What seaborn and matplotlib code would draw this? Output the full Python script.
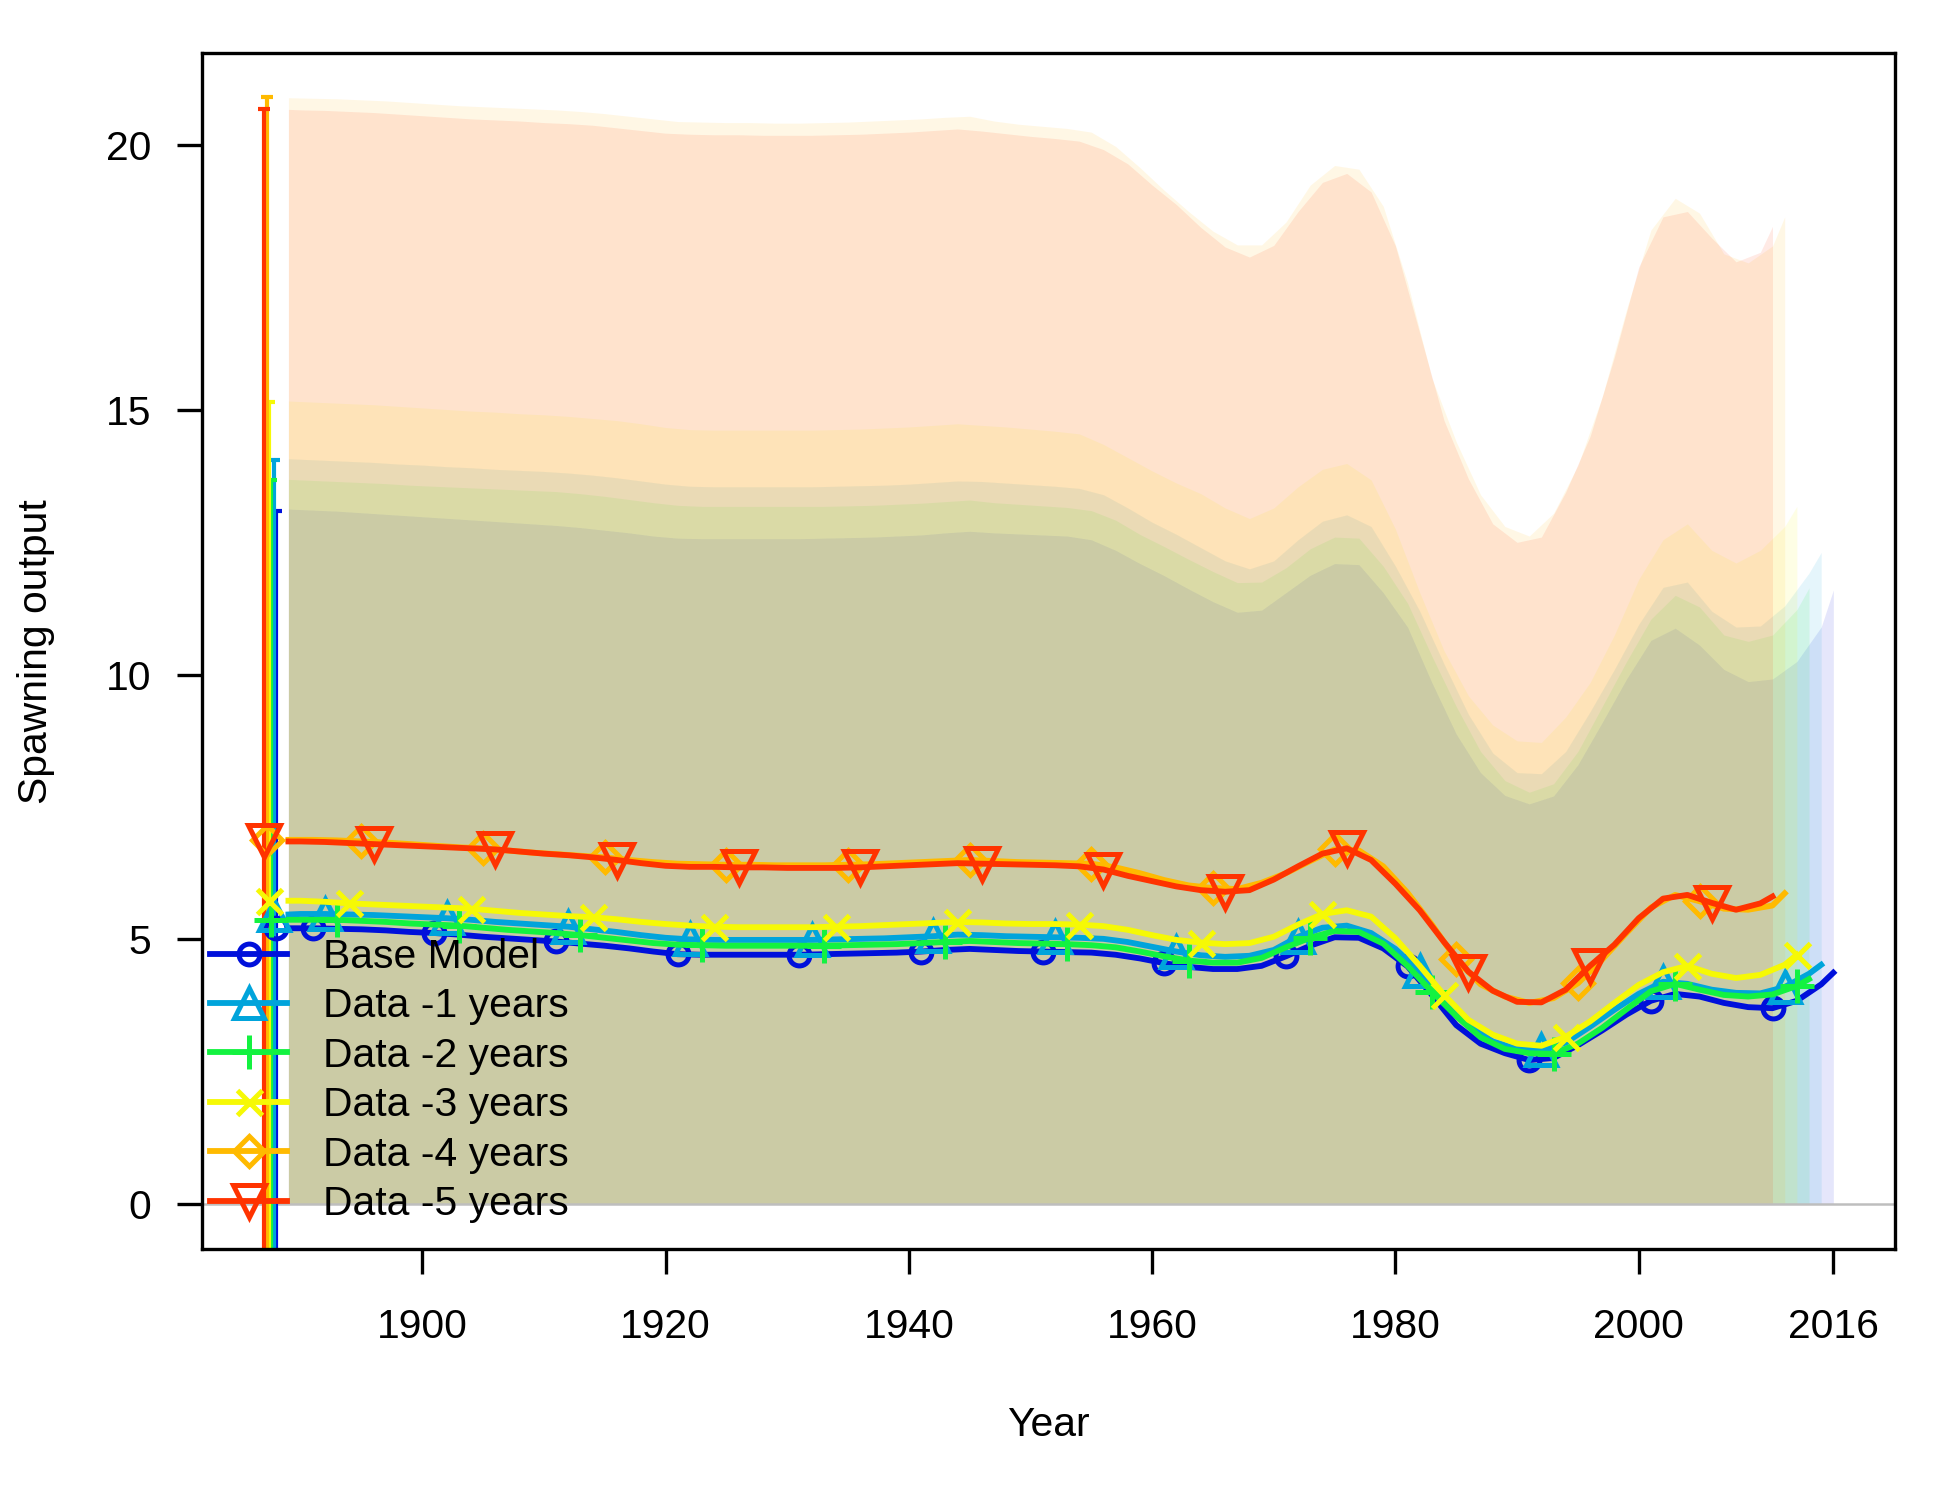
import matplotlib
matplotlib.use("Agg")
import matplotlib.pyplot as plt
from matplotlib.lines import Line2D
import pandas as pd
import seaborn as sns

plt.rcParams['font.family'] = ['Liberation Sans', 'DejaVu Sans']

# model names, colours and symbols
models = ["Base Model", "Data -1 years", "Data -2 years",
          "Data -3 years", "Data -4 years", "Data -5 years"]
colors = ["#0010DB", "#00A4DB", "#13F240", "#F6F905", "#FFBA00", "#FF3300"]
markers = ["o", "^", "+", "x", "D", "v"]
msizes = [5.0, 7.0, 8.0, 6.0, 5.0, 7.5]
first_mark = [1, 2, 2, 3, 3, 4]  # index of first symbol on each line

# years of each model run
years_base = list(range(1889, 2016, 2)) + [2016]
years_m1 = [1889] + list(range(1890, 2015, 2)) + [2015]
years_m2 = list(range(1889, 2014, 2)) + [2014]
years_m3 = [1889] + list(range(1890, 2013, 2)) + [2013]
years_m4 = list(range(1889, 2012, 2)) + [2012]
years_m5 = [1889] + list(range(1890, 2011, 2)) + [2011]

# spawning output estimates
ssb_base = [5.21, 5.21, 5.20, 5.19, 5.17, 5.14, 5.12, 5.09, 5.05, 5.02,
            4.99, 4.96, 4.92, 4.88, 4.83, 4.77, 4.72, 4.71, 4.71, 4.71,
            4.71, 4.71, 4.72, 4.73, 4.74, 4.75, 4.77, 4.80, 4.82, 4.80,
            4.78, 4.77, 4.76, 4.75, 4.71, 4.64, 4.55, 4.48, 4.44, 4.44,
            4.50, 4.68, 4.88, 5.04, 5.03, 4.83, 4.49, 3.95, 3.38, 3.03,
            2.85, 2.72, 2.76, 3.00, 3.28, 3.58, 3.84, 3.97, 3.92, 3.80,
            3.72, 3.70, 3.84, 4.15, 4.37]
ssb_m1 = [5.47, 5.48, 5.48, 5.47, 5.46, 5.44, 5.42, 5.40, 5.37, 5.33,
          5.30, 5.27, 5.24, 5.19, 5.14, 5.08, 5.03, 5.00, 4.99, 4.99,
          4.99, 4.99, 4.99, 5.00, 5.01, 5.02, 5.04, 5.06, 5.09, 5.08,
          5.06, 5.05, 5.04, 5.03, 5.01, 4.95, 4.86, 4.77, 4.70, 4.67,
          4.69, 4.80, 5.05, 5.22, 5.26, 5.12, 4.82, 4.40, 3.88, 3.40,
          3.07, 2.93, 2.91, 3.05, 3.35, 3.67, 3.97, 4.20, 4.16, 4.05,
          3.99, 3.98, 4.10, 4.35, 4.52]
ssb_m2 = [5.37, 5.37, 5.37, 5.35, 5.33, 5.30, 5.28, 5.26, 5.22, 5.18,
          5.15, 5.12, 5.08, 5.03, 4.98, 4.93, 4.90, 4.89, 4.88, 4.88,
          4.88, 4.88, 4.88, 4.89, 4.90, 4.91, 4.93, 4.95, 4.97, 4.95,
          4.93, 4.92, 4.91, 4.89, 4.85, 4.77, 4.68, 4.60, 4.56, 4.56,
          4.65, 4.85, 5.03, 5.16, 5.14, 4.92, 4.50, 4.01, 3.55, 3.15,
          2.93, 2.85, 2.84, 3.03, 3.33, 3.68, 4.02, 4.16, 4.05, 3.95,
          3.92, 3.96, 4.12, 4.25]
ssb_m3 = [5.73, 5.73, 5.71, 5.68, 5.66, 5.64, 5.62, 5.60, 5.58, 5.54,
          5.50, 5.47, 5.44, 5.42, 5.38, 5.33, 5.29, 5.26, 5.24, 5.23,
          5.23, 5.23, 5.23, 5.24, 5.25, 5.27, 5.29, 5.31, 5.33, 5.32,
          5.30, 5.29, 5.29, 5.28, 5.25, 5.18, 5.08, 4.99, 4.94, 4.91,
          4.93, 5.05, 5.28, 5.48, 5.55, 5.43, 5.02, 4.50, 3.95, 3.48,
          3.20, 3.03, 2.99, 3.16, 3.45, 3.80, 4.14, 4.38, 4.50, 4.35,
          4.27, 4.33, 4.52, 4.71]
ssb_m4 = [6.88, 6.88, 6.87, 6.85, 6.83, 6.80, 6.77, 6.74, 6.72, 6.68,
          6.64, 6.61, 6.58, 6.55, 6.50, 6.46, 6.43, 6.42, 6.41, 6.41,
          6.40, 6.40, 6.40, 6.41, 6.42, 6.44, 6.46, 6.48, 6.50, 6.48,
          6.46, 6.45, 6.44, 6.43, 6.36, 6.25, 6.12, 6.02, 5.97, 5.95,
          6.07, 6.25, 6.48, 6.70, 6.68, 6.38, 5.88, 5.28, 4.62, 4.15,
          3.92, 3.80, 3.89, 4.17, 4.62, 5.12, 5.60, 5.84, 5.72, 5.58,
          5.56, 5.64, 5.87]
ssb_m5 = [6.85, 6.85, 6.84, 6.82, 6.80, 6.78, 6.76, 6.74, 6.72, 6.70,
          6.66, 6.62, 6.59, 6.55, 6.50, 6.44, 6.39, 6.37, 6.37, 6.36,
          6.36, 6.35, 6.35, 6.35, 6.36, 6.38, 6.40, 6.42, 6.44, 6.43,
          6.42, 6.41, 6.40, 6.38, 6.32, 6.20, 6.10, 6.00, 5.93, 5.90,
          5.93, 6.13, 6.38, 6.62, 6.72, 6.50, 6.05, 5.55, 4.95, 4.39,
          4.03, 3.82, 3.81, 4.05, 4.50, 4.90, 5.40, 5.77, 5.84, 5.69,
          5.56, 5.68, 5.81]

# upper 95% interval of spawning output
upper_base = [13.13, 13.11, 13.09, 13.06, 13.03, 13.00, 12.97, 12.94, 12.91, 12.88,
              12.85, 12.82, 12.78, 12.73, 12.68, 12.62, 12.58, 12.57, 12.57, 12.57,
              12.57, 12.57, 12.58, 12.59, 12.60, 12.62, 12.64, 12.68, 12.71, 12.68,
              12.66, 12.64, 12.62, 12.55, 12.35, 12.10, 11.87, 11.62, 11.38, 11.18,
              11.22, 11.55, 11.88, 12.10, 12.08, 11.55, 10.90, 9.85, 8.88, 8.15,
              7.72, 7.56, 7.71, 8.30, 9.10, 9.92, 10.65, 10.88, 10.56, 10.10,
              9.87, 9.92, 10.25, 10.90, 11.60]
upper_m1 = [14.08, 14.07, 14.05, 14.03, 14.01, 13.98, 13.96, 13.93, 13.91, 13.88,
            13.86, 13.84, 13.81, 13.77, 13.72, 13.66, 13.60, 13.56, 13.55, 13.55,
            13.55, 13.55, 13.55, 13.56, 13.57, 13.58, 13.60, 13.63, 13.66, 13.65,
            13.62, 13.59, 13.56, 13.52, 13.40, 13.15, 12.88, 12.65, 12.40, 12.15,
            12.00, 12.15, 12.55, 12.90, 13.02, 12.80, 12.05, 11.20, 10.20, 9.25,
            8.52, 8.15, 8.13, 8.55, 9.30, 10.10, 10.95, 11.65, 11.75, 11.20,
            10.90, 10.92, 11.30, 11.92, 12.31]
upper_m2 = [13.69, 13.67, 13.65, 13.63, 13.61, 13.58, 13.56, 13.54, 13.52, 13.50,
            13.48, 13.46, 13.42, 13.37, 13.31, 13.25, 13.20, 13.18, 13.18, 13.18,
            13.18, 13.18, 13.18, 13.19, 13.20, 13.22, 13.24, 13.27, 13.30, 13.25,
            13.22, 13.19, 13.16, 13.10, 12.92, 12.65, 12.42, 12.18, 11.95, 11.74,
            11.75, 12.02, 12.38, 12.60, 12.58, 12.05, 11.35, 10.35, 9.40, 8.55,
            8.00, 7.78, 7.94, 8.55, 9.40, 10.25, 11.05, 11.50, 11.28, 10.75,
            10.63, 10.75, 11.23, 11.64]
upper_m3 = [15.17, 15.16, 15.14, 15.12, 15.10, 15.07, 15.04, 15.01, 14.98, 14.96,
            14.93, 14.91, 14.88, 14.84, 14.80, 14.74, 14.67, 14.63, 14.62, 14.62,
            14.62, 14.62, 14.62, 14.63, 14.64, 14.66, 14.68, 14.71, 14.74, 14.71,
            14.68, 14.64, 14.60, 14.55, 14.35, 14.10, 13.85, 13.62, 13.42, 13.15,
            12.95, 13.15, 13.55, 13.88, 13.99, 13.68, 12.75, 11.55, 10.45, 9.60,
            9.05, 8.75, 8.72, 9.20, 9.85, 10.75, 11.80, 12.55, 12.85, 12.35,
            12.11, 12.35, 12.80, 13.18]
upper_m4 = [20.90, 20.89, 20.88, 20.86, 20.84, 20.81, 20.78, 20.75, 20.73, 20.71,
            20.69, 20.67, 20.64, 20.60, 20.55, 20.50, 20.45, 20.44, 20.43, 20.43,
            20.42, 20.42, 20.43, 20.44, 20.46, 20.48, 20.50, 20.53, 20.55, 20.46,
            20.40, 20.36, 20.32, 20.25, 19.98, 19.58, 19.15, 18.75, 18.38, 18.12,
            18.12, 18.55, 19.25, 19.62, 19.55, 18.85, 17.40, 15.60, 14.40, 13.40,
            12.80, 12.62, 13.05, 13.95, 15.25, 16.90, 18.40, 19.00, 18.72, 17.95,
            17.78, 18.10, 18.65]
upper_m5 = [20.68, 20.67, 20.66, 20.64, 20.62, 20.59, 20.56, 20.53, 20.50, 20.48,
            20.46, 20.43, 20.41, 20.38, 20.33, 20.28, 20.23, 20.21, 20.20, 20.20,
            20.19, 20.19, 20.19, 20.20, 20.21, 20.23, 20.25, 20.28, 20.31, 20.27,
            20.22, 20.17, 20.13, 20.08, 19.92, 19.65, 19.25, 18.88, 18.45, 18.08,
            17.89, 18.11, 18.75, 19.30, 19.47, 19.12, 18.10, 16.45, 14.80, 13.70,
            12.85, 12.50, 12.60, 13.45, 14.50, 16.00, 17.70, 18.65, 18.75, 18.25,
            17.80, 17.98, 18.47]

# unfished (virgin) spawning output with interval, one per model
virg_year = [1888.0, 1887.8, 1887.6, 1887.4, 1887.2, 1887.0]
virg_ssb = [5.22, 5.47, 5.36, 5.73, 6.88, 6.85]
virg_upper = [13.10, 14.05, 13.67, 15.15, 20.92, 20.68]
virg_lower = [-2.66, -3.11, -2.95, -3.69, -7.16, -6.98]

years_all = [years_base, years_m1, years_m2, years_m3, years_m4, years_m5]
ssb_all = [ssb_base, ssb_m1, ssb_m2, ssb_m3, ssb_m4, ssb_m5]
upper_all = [upper_base, upper_m1, upper_m2, upper_m3, upper_m4, upper_m5]

fig = plt.figure(figsize=(6.5, 5), dpi=300)
ax = fig.add_axes([0.1035, 0.1673, 0.8683, 0.7972])

# shaded intervals
for yrs, up, col in zip(years_all, upper_all, colors):
    ax.fill_between(yrs, 0, up, color=col, alpha=0.1, linewidth=0, zorder=1)

ax.axhline(0, color="#BEBEBE", lw=0.6, zorder=1.5)

# time series
for i in range(len(models)):
    df = pd.DataFrame({"Year": years_all[i], "SpawnOut": ssb_all[i]})
    sns.lineplot(data=df, x="Year", y="SpawnOut", ax=ax, estimator=None,
                 color=colors[i], linewidth=1.4, marker=markers[i],
                 markersize=msizes[i], markerfacecolor="none",
                 markeredgecolor=colors[i], markeredgewidth=1.2,
                 markevery=(first_mark[i], 5), zorder=3)

# virgin spawning output with error bars
for i in range(len(models)):
    ax.errorbar([virg_year[i]], [virg_ssb[i]],
                yerr=[[virg_ssb[i] - virg_lower[i]], [virg_upper[i] - virg_ssb[i]]],
                fmt="none", ecolor=colors[i], elinewidth=1.0, capsize=1.4,
                capthick=1.0, zorder=2.5)
    ax.plot([virg_year[i]], [virg_ssb[i]], marker=markers[i], ms=msizes[i],
            mfc="none", mec=colors[i], mew=1.2, ls="none", zorder=3)

ax.set_xlim(1881.88, 2021.07)
ax.set_ylim(-0.85, 21.74)
ax.set_xticks([1900, 1920, 1940, 1960, 1980, 2000, 2016])
ax.set_yticks([0, 5, 10, 15, 20])
ax.tick_params(direction="out", length=6, width=0.8, labelsize=9.8,
               colors="black")
ax.tick_params(axis="x", pad=8.2)
ax.tick_params(axis="y", pad=6.2)
for sp in ax.spines.values():
    sp.set_linewidth(0.8)
    sp.set_color("black")

ax.set_xlabel("Year", fontsize=9.8)
ax.set_ylabel("Spawning output", fontsize=9.8)
ax.xaxis.set_label_coords(0.5, -0.131)
ax.yaxis.set_label_coords(-0.087, 0.5)

handles = [Line2D([0], [0], color=colors[i], lw=1.4, marker=markers[i],
                  ms=msizes[i], mfc="none", mec=colors[i], mew=1.2)
           for i in range(len(models))]
ax.legend(handles, models, loc="center left", bbox_to_anchor=(0.0047, 0.141),
          frameon=False, fontsize=9.8, handlelength=1.9, handletextpad=0.88,
          labelspacing=0.28, borderpad=0, borderaxespad=0, numpoints=1)

fig.savefig("out.png", dpi=300)
